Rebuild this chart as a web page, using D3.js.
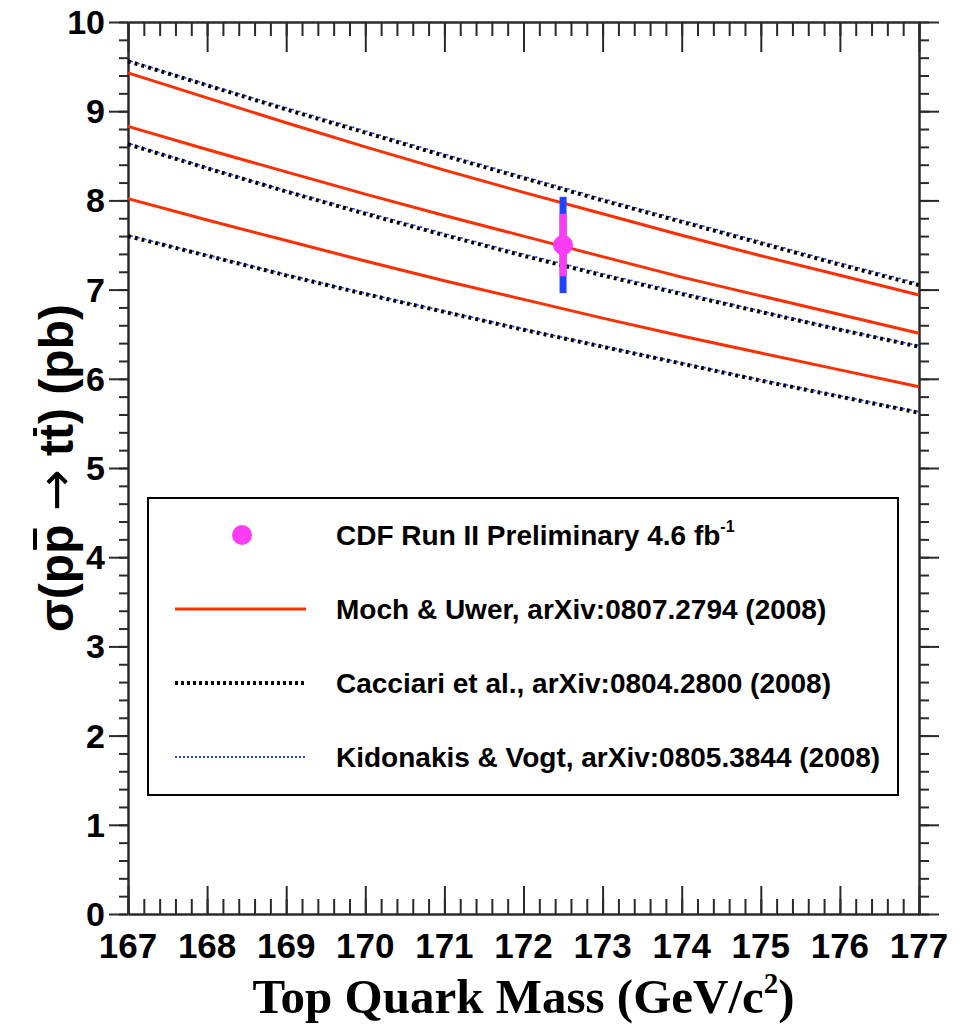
<!DOCTYPE html>
<html>
<head>
<meta charset="utf-8">
<script src="https://cdn.jsdelivr.net/npm/d3@7"></script>
<style>
  body { margin: 0; background: #fff; }
  svg { display: block; }
</style>
</head>
<body>
<div id="target"></div>
<script>
// data
var masses = [167, 168, 169, 170, 171, 172, 173, 174, 175, 176, 177];

// Moch & Uwer band (upper, central, lower)
var mochUp  = [9.43, 9.15, 8.87, 8.60, 8.34, 8.09, 7.85, 7.61, 7.38, 7.16, 6.94];
var mochCen = [8.83, 8.57, 8.32, 8.07, 7.83, 7.60, 7.37, 7.14, 6.93, 6.72, 6.51];
var mochLow = [8.02, 7.78, 7.55, 7.32, 7.10, 6.89, 6.68, 6.48, 6.29, 6.10, 5.91];

// Cacciari et al. band
var cacUp  = [9.56, 9.29, 9.02, 8.76, 8.50, 8.25, 8.00, 7.76, 7.52, 7.28, 7.05];
var cacCen = [8.63, 8.36, 8.10, 7.85, 7.61, 7.38, 7.16, 6.95, 6.75, 6.55, 6.36];
var cacLow = [7.60, 7.38, 7.16, 6.95, 6.75, 6.55, 6.36, 6.17, 5.98, 5.80, 5.62];

// Kidonakis & Vogt band
var kidUp  = [9.57, 9.30, 9.04, 8.78, 8.52, 8.27, 8.02, 7.78, 7.54, 7.30, 7.07];
var kidCen = [8.64, 8.37, 8.11, 7.87, 7.63, 7.40, 7.18, 6.97, 6.76, 6.56, 6.37];
var kidLow = [7.61, 7.39, 7.17, 6.96, 6.76, 6.56, 6.37, 6.18, 5.99, 5.81, 5.63];

// CDF measurement
var cdfMass = 172.5;
var cdfXsec = 7.50;
var cdfErrTot = 0.54;
var cdfErrInner = 0.35;

var xTicks = [167, 168, 169, 170, 171, 172, 173, 174, 175, 176, 177];
var yTicks = [0, 1, 2, 3, 4, 5, 6, 7, 8, 9, 10];

var legendLabels = [
  'CDF Run II Preliminary 4.6 fb',
  'Moch & Uwer, arXiv:0807.2794 (2008)',
  'Cacciari et al., arXiv:0804.2800 (2008)',
  'Kidonakis & Vogt, arXiv:0805.3844 (2008)'
];

// ---------------------------
var W = 965, H = 1027;
var L = 128, R = 919, T = 22, B = 914;

var red = '#ff2e00', pink = '#ff3cf5', blue = '#1f44ff', axisCol = '#2a2a2a';
var sans = 'Liberation Sans, Arial, sans-serif';

var svg = d3.select('#target').append('svg')
  .attr('width', W).attr('height', H);

var x = d3.scaleLinear().domain([167, 177]).range([L, R]);
var y = d3.scaleLinear().domain([0, 10]).range([B, T]);

var minorX = d3.range(167, 177.001, 0.2).map(function(d) { return +d.toFixed(1); });
var minorY = d3.range(0, 10.001, 0.2).map(function(d) { return +d.toFixed(1); });

function styleAxis(g) {
  g.select('.domain').attr('stroke', axisCol).attr('stroke-width', 2);
  g.selectAll('.tick line').attr('stroke', axisCol).attr('stroke-width', 2);
  g.selectAll('.tick text').remove();
}

// left: ticks outward
svg.append('g').attr('transform', 'translate(' + L + ',0)')
  .call(d3.axisLeft(y).tickValues(minorY).tickSize(9).tickSizeOuter(0).tickFormat(''))
  .call(styleAxis);
svg.append('g').attr('transform', 'translate(' + L + ',0)')
  .call(d3.axisLeft(y).tickValues(yTicks).tickSize(19).tickSizeOuter(0).tickFormat(''))
  .call(styleAxis);
// right: ticks outward
svg.append('g').attr('transform', 'translate(' + R + ',0)')
  .call(d3.axisRight(y).tickValues(minorY).tickSize(10).tickSizeOuter(0).tickFormat(''))
  .call(styleAxis);
svg.append('g').attr('transform', 'translate(' + R + ',0)')
  .call(d3.axisRight(y).tickValues(yTicks).tickSize(20).tickSizeOuter(0).tickFormat(''))
  .call(styleAxis);
// bottom: ticks inward (up)
svg.append('g').attr('transform', 'translate(0,' + B + ')')
  .call(d3.axisTop(x).tickValues(minorX).tickSize(15).tickSizeOuter(0).tickFormat(''))
  .call(styleAxis);
svg.append('g').attr('transform', 'translate(0,' + B + ')')
  .call(d3.axisTop(x).tickValues(xTicks).tickSize(28).tickSizeOuter(0).tickFormat(''))
  .call(styleAxis);
// top: ticks inward (down)
svg.append('g').attr('transform', 'translate(0,' + T + ')')
  .call(d3.axisBottom(x).tickValues(minorX).tickSize(14).tickSizeOuter(0).tickFormat(''))
  .call(styleAxis);
svg.append('g').attr('transform', 'translate(0,' + T + ')')
  .call(d3.axisBottom(x).tickValues(xTicks).tickSize(30).tickSizeOuter(0).tickFormat(''))
  .call(styleAxis);

// tick labels
svg.append('g').selectAll('text').data(yTicks).join('text')
  .attr('x', 105).attr('y', function(d) { return y(d) + 12; })
  .attr('text-anchor', 'end')
  .attr('font-family', sans)
  .attr('font-weight', 'bold').attr('font-size', 34)
  .text(function(d) { return d; });

svg.append('g').selectAll('text').data(xTicks).join('text')
  .attr('x', function(d) { return x(d); }).attr('y', 958)
  .attr('text-anchor', 'middle')
  .attr('font-family', sans)
  .attr('font-weight', 'bold').attr('font-size', 35)
  .text(function(d) { return d; });

// x title
var xt = svg.append('text')
  .attr('x', (L + R) / 2).attr('y', 1013)
  .attr('text-anchor', 'middle')
  .attr('font-family', 'Liberation Serif, Times New Roman, serif')
  .attr('font-weight', 'bold').attr('font-size', 49);
xt.append('tspan').text('Top Quark Mass (GeV/c');
xt.append('tspan').attr('font-size', 29).attr('dy', -20).text('2');
xt.append('tspan').attr('dy', 20).text(')');

// y title, rotated, with bars over the second p and the second t
var yParts = [
  { t: '\u03c3(p' },
  { t: 'p', bar: true },
  { t: ' ' },
  { t: '\u2192', arrow: true },
  { t: ' t' },
  { t: 't', bar: true },
  { t: ') (pb)' }
];
var yg = svg.append('g').attr('transform', 'translate(73,' + ((T + B) / 2) + ') rotate(-90)');
var ytxt = yg.append('text')
  .attr('font-family', sans)
  .attr('font-weight', 'bold').attr('font-size', 48);
var spans = ytxt.selectAll('tspan').data(yParts).join('tspan')
  .attr('font-family', function(d) { return d.arrow ? 'DejaVu Sans, sans-serif' : null; })
  .attr('font-weight', function(d) { return d.arrow ? 'normal' : null; })
  .attr('font-size', function(d) { return d.arrow ? 50 : null; })
  .text(function(d) { return d.t; });
var lens = spans.nodes().map(function(n) { return n.getComputedTextLength(); });
var total = d3.sum(lens);
ytxt.attr('x', -total / 2);
var pos = -total / 2;
yParts.forEach(function(p, i) {
  if (p.bar) {
    yg.append('line')
      .attr('x1', pos + 4).attr('x2', pos + lens[i] - 4)
      .attr('y1', -38).attr('y2', -38)
      .attr('stroke', '#000').attr('stroke-width', 4);
  }
  pos += lens[i];
});

// curves
var line = d3.line()
  .x(function(d) { return x(d[0]); })
  .y(function(d) { return y(d[1]); });

function pairs(vals) { return masses.map(function(m, i) { return [m, vals[i]]; }); }

var plot = svg.append('g');
[cacUp, cacCen, cacLow].forEach(function(v) {
  plot.append('path').datum(pairs(v)).attr('d', line)
    .attr('fill', 'none').attr('stroke', '#000')
    .attr('stroke-width', 4).attr('stroke-dasharray', '3,4');
});
[kidUp, kidCen, kidLow].forEach(function(v) {
  plot.append('path').datum(pairs(v)).attr('d', line)
    .attr('fill', 'none').attr('stroke', blue)
    .attr('stroke-width', 1.6).attr('stroke-dasharray', '2,5')
    .attr('stroke-dashoffset', 4);
});
[mochUp, mochCen, mochLow].forEach(function(v) {
  plot.append('path').datum(pairs(v)).attr('d', line)
    .attr('fill', 'none').attr('stroke', red).attr('stroke-width', 3);
});

// CDF point with error bars
plot.append('line')
  .attr('x1', x(cdfMass)).attr('x2', x(cdfMass))
  .attr('y1', y(cdfXsec + cdfErrTot)).attr('y2', y(cdfXsec - cdfErrTot))
  .attr('stroke', blue).attr('stroke-width', 7);
plot.append('line')
  .attr('x1', x(cdfMass)).attr('x2', x(cdfMass))
  .attr('y1', y(cdfXsec + cdfErrInner)).attr('y2', y(cdfXsec - cdfErrInner))
  .attr('stroke', pink).attr('stroke-width', 7);
plot.append('circle')
  .attr('cx', x(cdfMass)).attr('cy', y(cdfXsec)).attr('r', 10)
  .attr('fill', pink);

// legend
var leg = svg.append('g');
leg.append('rect')
  .attr('x', 148).attr('y', 498).attr('width', 750).attr('height', 297)
  .attr('fill', '#fff').attr('stroke', '#000').attr('stroke-width', 2);

var rowY = [535, 609, 683, 757];
leg.append('circle').attr('cx', 242).attr('cy', rowY[0]).attr('r', 10).attr('fill', pink);
leg.append('line').attr('x1', 175).attr('x2', 306).attr('y1', rowY[1]).attr('y2', rowY[1])
  .attr('stroke', red).attr('stroke-width', 3);
leg.append('line').attr('x1', 175).attr('x2', 306).attr('y1', rowY[2]).attr('y2', rowY[2])
  .attr('stroke', '#000').attr('stroke-width', 4).attr('stroke-dasharray', '3,3');
leg.append('line').attr('x1', 175).attr('x2', 306).attr('y1', rowY[3]).attr('y2', rowY[3])
  .attr('stroke', blue).attr('stroke-width', 2).attr('stroke-dasharray', '2,2');

var lt = leg.selectAll('text.lab').data(legendLabels).join('text')
  .attr('class', 'lab')
  .attr('x', 336).attr('y', function(d, i) { return rowY[i] + 10; })
  .attr('font-family', sans)
  .attr('font-weight', 'bold').attr('font-size', 28)
  .text(function(d) { return d; });
lt.filter(function(d, i) { return i === 0; })
  .append('tspan').attr('font-size', 16).attr('dy', -13).text('-1');
</script>
</body>
</html>
